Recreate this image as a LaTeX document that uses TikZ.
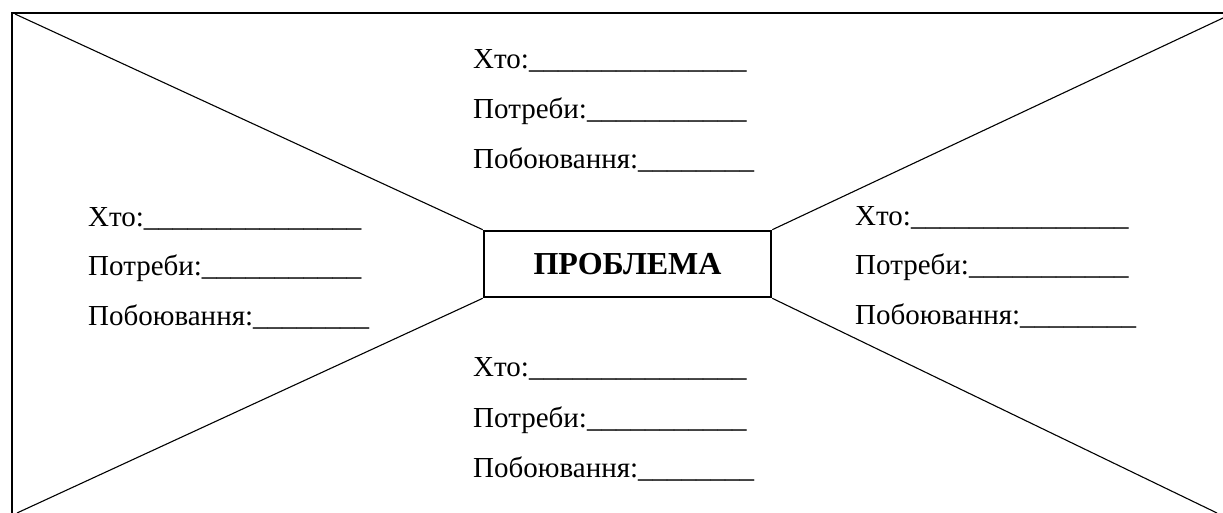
\documentclass[tikz,border=0pt]{standalone}
\usepackage{fontspec}
\setmainfont{Liberation Serif}
\newcommand\blanks[1]{\foreach \i in {1,...,#1}{\_}}
\begin{document}
\begin{tikzpicture}[x=1bp,y=-1bp,
  frame/.style={line width=1.2bp, black},
  ray/.style={line width=1.1bp, black},
  problembox/.style={draw, line width=2.6bp, minimum width=287bp, minimum height=66bp,
    inner sep=0pt, font=\fontsize{32bp}{36bp}\selectfont\bfseries},
  field/.style={anchor=base west, inner sep=0pt, font=\fontsize{29bp}{34bp}\selectfont}]
\useasboundingbox (0,0) rectangle (1223,513);

% outer frame corners
\coordinate (otl) at (12,13);
\coordinate (otr) at (1223,13);
\coordinate (obl) at (12,513);
\draw[frame] (otr) -- (otl) -- (obl);

% ends of the rays on the frame
\coordinate (rtl) at (15,14);
\coordinate (rtr) at (1223,18);
\coordinate (rbl) at (17,513);
\coordinate (rbr) at (1217,513);

% central box
\node[problembox] (prob) at (627.5,264) {ПРОБЛЕМА};

\draw[ray] (rtl) -- (prob.north west);
\draw[ray] (rtr) -- (prob.north east);
\draw[ray] (rbl) -- (prob.south west);
\draw[ray] (rbr) -- (prob.south east);

% top group
\node[field] (tw) at (473,69)  {Хто:\blanks{15}};
\node[field] (tn) at (473,119) {Потреби:\blanks{11}};
\node[field] (tc) at (473,169) {Побоювання:\blanks{8}};
% left group
\node[field] (lw) at (88,227)  {Хто:\blanks{15}};
\node[field] (ln) at (88,276)  {Потреби:\blanks{11}};
\node[field] (lc) at (88,326)  {Побоювання:\blanks{8}};
% right group
\node[field] (rw) at (855,226) {Хто:\blanks{15}};
\node[field] (rn) at (855,275) {Потреби:\blanks{11}};
\node[field] (rc) at (855,325) {Побоювання:\blanks{8}};
% bottom group
\node[field] (bw) at (473,377) {Хто:\blanks{15}};
\node[field] (bn) at (473,427) {Потреби:\blanks{11}};
\node[field] (bc) at (473,477) {Побоювання:\blanks{8}};
\end{tikzpicture}
\end{document}
